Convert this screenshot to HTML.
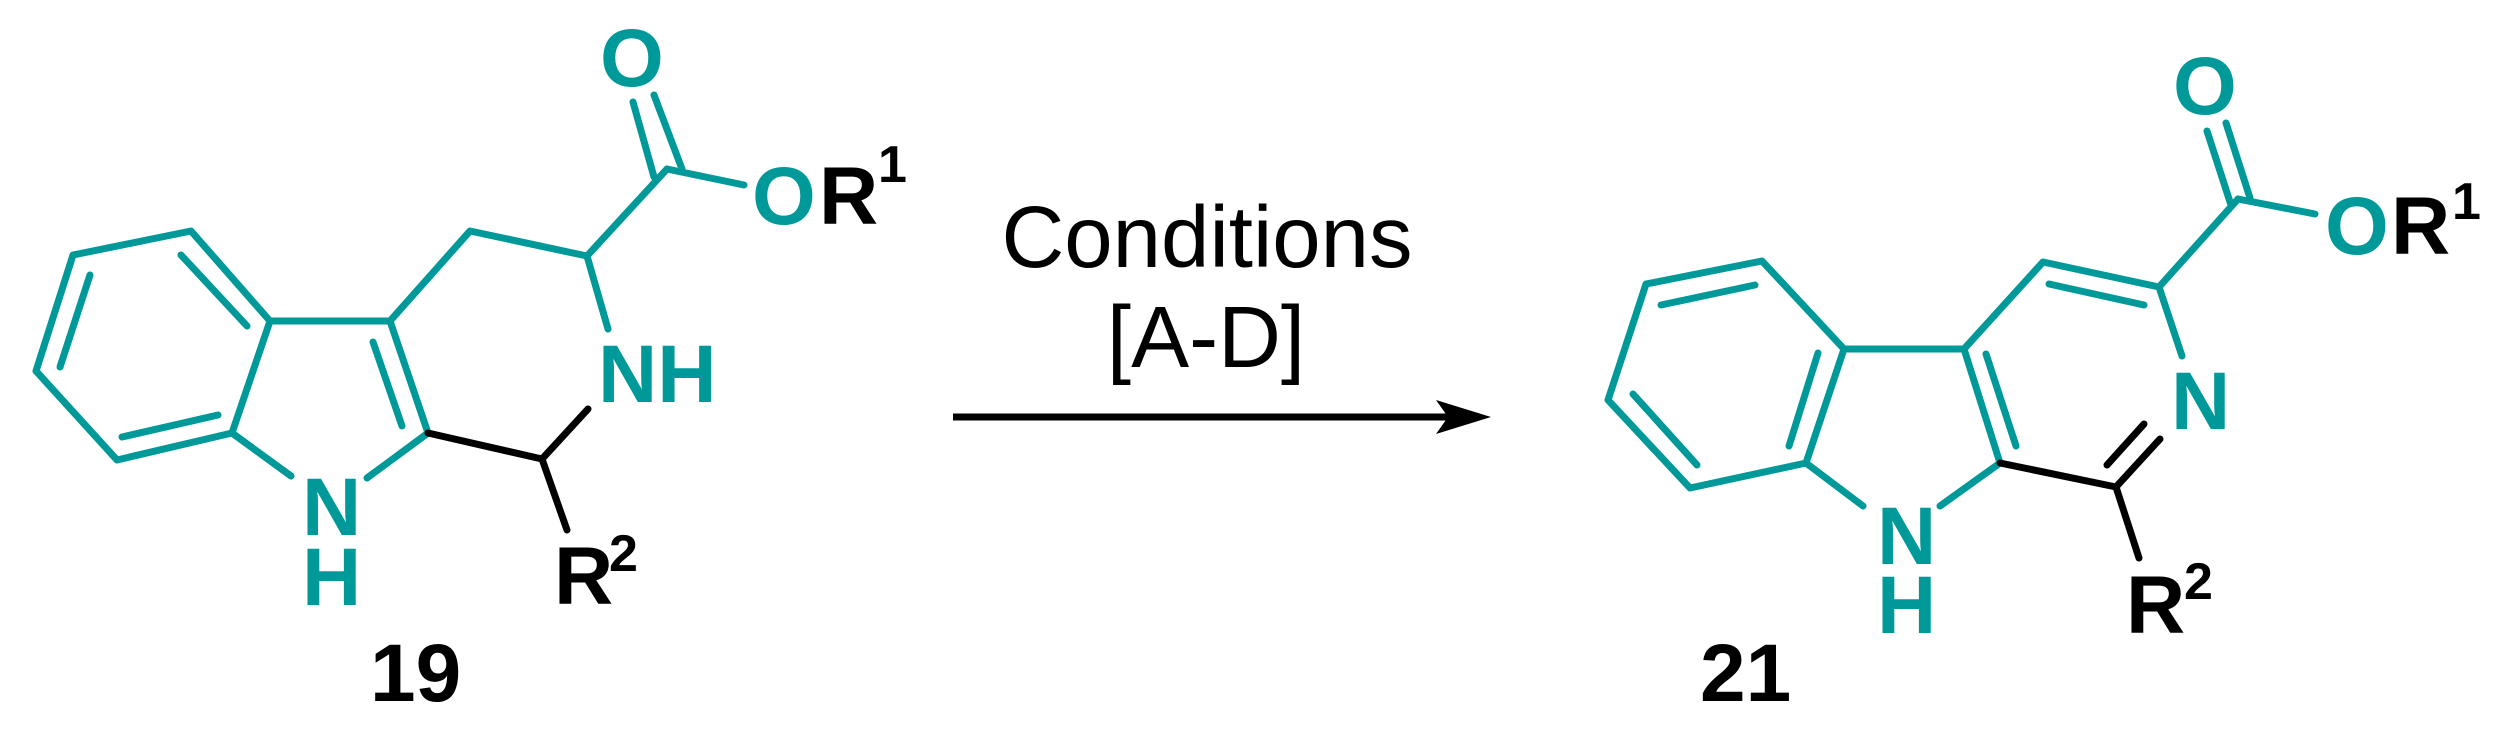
<!DOCTYPE html>
<html><head><meta charset="utf-8"><style>
html,body{margin:0;padding:0;background:#fff;width:2510px;height:731px;overflow:hidden}
svg{display:block}
text{font-family:"Liberation Sans",sans-serif}
</style></head><body>
<svg width="2510" height="731" viewBox="0 0 2510 731" xmlns="http://www.w3.org/2000/svg">
<g stroke="#009999" stroke-width="7" stroke-linecap="round" stroke-linejoin="round" fill="none">
<polygon points="73,255 191,231 270,321 232,433 117,460 36,371"/>
<line x1="181" y1="255" x2="247" y2="326"/>
<line x1="90" y1="275" x2="60" y2="367"/>
<line x1="122" y1="437" x2="218" y2="415"/>
<line x1="270" y1="321" x2="390" y2="321"/>
<line x1="390" y1="321" x2="428" y2="433"/>
<line x1="373" y1="342" x2="402" y2="426"/>
<line x1="232" y1="433" x2="291" y2="476"/>
<line x1="367" y1="478" x2="428" y2="433"/>
<polyline points="390,321 470,231 587,256 608,329"/>
<line x1="587" y1="256" x2="667" y2="169"/>
<line x1="667" y1="169" x2="744" y2="185"/>
<line x1="654" y1="177" x2="633" y2="102"/>
<line x1="682" y1="169" x2="654" y2="95"/>
<polygon points="1646,284 1762,261 1844,349 1806,463 1690,488 1608,400"/>
<line x1="1661" y1="305" x2="1755" y2="285"/>
<line x1="1633" y1="394" x2="1697" y2="465"/>
<line x1="1818" y1="353" x2="1789" y2="446"/>
<line x1="1844" y1="349" x2="1964" y2="349"/>
<line x1="1964" y1="349" x2="2000" y2="463"/>
<line x1="1986" y1="354" x2="2016" y2="446"/>
<line x1="1806" y1="463" x2="1863" y2="506"/>
<line x1="1940" y1="506" x2="2000" y2="463"/>
<polyline points="1964,349 2043,262 2159,287 2182,356"/>
<line x1="2049" y1="284" x2="2144" y2="305"/>
<line x1="2159" y1="287" x2="2238" y2="199"/>
<line x1="2238" y1="199" x2="2315" y2="214"/>
<line x1="2231" y1="205" x2="2207" y2="131"/>
<line x1="2250" y1="198" x2="2226" y2="123"/>
</g>
<g stroke="#000" stroke-width="7" stroke-linecap="round" fill="none">
<line x1="428" y1="433" x2="542" y2="459"/>
<line x1="542" y1="459" x2="588" y2="409"/>
<line x1="542" y1="459" x2="567" y2="530"/>
<line x1="2000" y1="463" x2="2116" y2="487"/>
<line x1="2116" y1="487" x2="2160" y2="439"/>
<line x1="2107" y1="465" x2="2144" y2="424"/>
<line x1="2116" y1="487" x2="2139" y2="558"/>
<line x1="953" y1="417" x2="1450" y2="417" stroke-linecap="butt"/>
</g>
<polygon points="1491,417 1436,400 1448,417 1436,434" fill="#000"/>
<g font-weight="bold" font-size="82" fill="#009999">
<text x="302" y="535">N</text>
<text x="302" y="605">H</text>
<text x="598" y="402">NH</text>
<text x="600" y="86">O</text>
<text x="752" y="224">O</text>
<text x="1877" y="564">N</text>
<text x="1877" y="633">H</text>
<text x="2171" y="429">N</text>
<text x="2173" y="114">O</text>
<text x="2325" y="254">O</text>
</g>
<g font-weight="bold" fill="#000">
<text x="819" y="224" font-size="82">R</text>
<text x="878" y="182" font-size="52">1</text>
<text x="554" y="604" font-size="82">R</text>
<text x="609" y="571" font-size="52">2</text>
<text x="2391" y="254" font-size="82">R</text>
<text x="2452" y="219" font-size="52">1</text>
<text x="2126" y="633" font-size="82">R</text>
<text x="2184" y="599" font-size="52">2</text>
<text x="370" y="701" font-size="82">19</text>
<text x="1700" y="701" font-size="82">21</text>
</g>
<text x="1207" y="267" font-size="87" text-anchor="middle" fill="#000">Conditions</text>
<text x="1206" y="367" font-size="87" text-anchor="middle" fill="#000">[A-D]</text>
</svg>
</body></html>
